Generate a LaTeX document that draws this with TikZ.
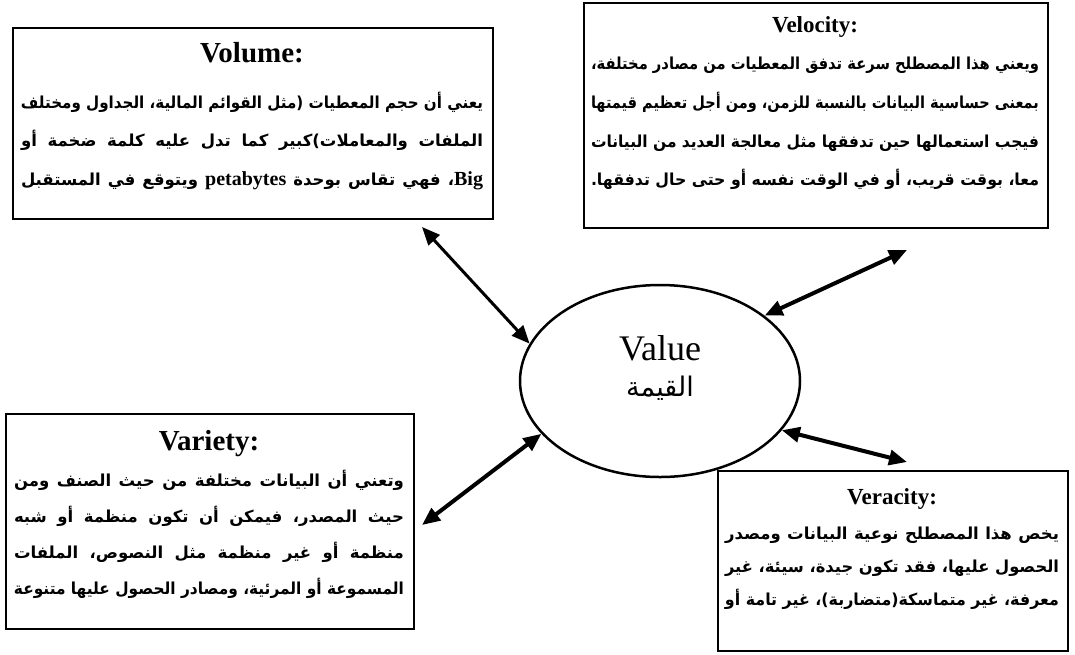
\documentclass[tikz,border=0pt]{standalone}
\usepackage{fontspec}
\usepackage{graphicx}
\setmainfont{Liberation Serif}
\newfontfamily\arb[Script=Arabic]{DejaVu Sans}
\TeXXeTstate=1
\usetikzlibrary{arrows.meta,shapes.geometric}

% one justified line of the given width; a line that is too long is narrowed
\newcommand{\rline}[2]{\setbox0=\hbox{#2}%
  \ifdim\wd0>#1\relax\resizebox{#1}{\height}{\box0}\else\hbox to #1{\unhbox0}\fi}
% a last line, set flush left (narrowed when too long)
\newcommand{\rlast}[2]{\setbox0=\hbox{#2}%
  \ifdim\wd0>#1\relax\resizebox{#1}{\height}{\box0}\else\hbox to #1{\box0\hfil}\fi}
% Latin words inside the Arabic text
\newcommand{\lat}[1]{{\rmfamily\bfseries\fontsize{20}{24}\selectfont #1}}

\tikzset{
  box/.style={draw, line width=2pt, inner sep=0pt, anchor=north west},
  bigtitle/.style={anchor=base, inner sep=0pt, font=\bfseries\fontsize{29}{32}\selectfont},
  smalltitle/.style={anchor=base, inner sep=0pt, font=\bfseries\fontsize{23}{26}\selectfont},
  txt/.style={anchor=base, inner sep=0pt, font=\arb\bfseries\fontsize{16.5}{20}\selectfont},
  link/.style={line width=4pt, {Triangle[length=18pt,width=15pt]}-{Triangle[length=18pt,width=15pt]}},
}

\begin{document}
\begin{tikzpicture}[x=1pt,y=-1pt]
\useasboundingbox (0,0) rectangle (1075,654);

% ---- central ellipse ----
\node[draw, ellipse, line width=2.5pt, minimum width=280pt, minimum height=192pt, inner sep=0pt] (val) at (660,381) {};
\node[anchor=base, inner sep=0pt, font=\fontsize{36}{40}\selectfont] (valen) at (660,360) {Value};
\node[anchor=base, inner sep=0pt, font=\arb\fontsize{27}{30}\selectfont] (valar) at (660,396) {\beginR القيمة\endR};

% ---- Volume ----
\node[box, minimum width=480pt, minimum height=191pt] (vol) at (12,27) {};
\node[bigtitle] (volt) at (252,62) {Volume:};
\node[txt] (vol1) at (252,108) {\rline{462pt}{\beginR يعني أن حجم المعطيات (مثل القوائم المالية، الجداول ومختلف\endR}};
\node[txt] (vol2) at (252,146) {\rline{462pt}{\beginR الملفات والمعاملات)كبير كما تدل عليه كلمة ضخمة أو\endR}};
\node[txt] (vol3) at (252,185) {\rline{462pt}{\beginR \lat{Big}، فهي تقاس بوحدة \lat{petabytes} ويتوقع في المستقبل\endR}};

% ---- Velocity ----
\node[box, minimum width=464pt, minimum height=225pt] (vel) at (583,2) {};
\node[smalltitle] (velt) at (815,32) {Velocity:};
\node[txt] (vel1) at (815,69) {\rline{448pt}{\beginR ويعني هذا المصطلح سرعة تدفق المعطيات من مصادر مختلفة،\endR}};
\node[txt] (vel2) at (815,108) {\rline{448pt}{\beginR بمعنى حساسية البيانات بالنسبة للزمن، ومن أجل تعظيم قيمتها\endR}};
\node[txt] (vel3) at (815,147) {\rline{448pt}{\beginR فيجب استعمالها حين تدفقها مثل معالجة العديد من البيانات\endR}};
\node[txt] (vel4) at (815,185) {\rlast{448pt}{\beginR معا، بوقت قريب، أو في الوقت نفسه أو حتى حال تدفقها.\endR}};

% ---- Variety ----
\node[box, minimum width=408pt, minimum height=215pt] (var) at (5,413) {};
\node[bigtitle] (vart) at (209,450) {Variety:};
\node[txt] (var1) at (209,486) {\rline{390pt}{\beginR وتعني أن البيانات مختلفة من حيث الصنف ومن\endR}};
\node[txt] (var2) at (209,522) {\rline{390pt}{\beginR حيث المصدر، فيمكن أن تكون منظمة أو شبه\endR}};
\node[txt] (var3) at (209,558) {\rline{390pt}{\beginR منظمة أو غير منظمة مثل النصوص، الملفات\endR}};
\node[txt] (var4) at (209,594) {\rline{390pt}{\beginR المسموعة أو المرئية، ومصادر الحصول عليها متنوعة\endR}};

% ---- Veracity ----
\node[box, minimum width=350pt, minimum height=180pt] (ver) at (717,470) {};
\node[smalltitle] (vert) at (892,504) {Veracity:};
\node[txt] (ver1) at (892,539) {\rline{334pt}{\beginR يخص هذا المصطلح نوعية البيانات ومصدر\endR}};
\node[txt] (ver2) at (892,572) {\rline{334pt}{\beginR الحصول عليها، فقد تكون جيدة، سيئة، غير\endR}};
\node[txt] (ver3) at (892,605) {\rline{334pt}{\beginR معرفة، غير متماسكة(متضاربة)، غير تامة أو\endR}};

% ---- connectors ----
\draw[link, line width=3pt] ([xshift=410pt,yshift=-7pt]vol.south west) -- (val.164);
\draw[link] ([xshift=324pt,yshift=-21pt]vel.south west) -- (val.32);
\draw[link] ([xshift=7pt,yshift=-112pt]var.north east) -- (val.204);
\draw[link] ([xshift=190pt,yshift=8pt]ver.north west) -- (val.338);
\end{tikzpicture}
\end{document}
